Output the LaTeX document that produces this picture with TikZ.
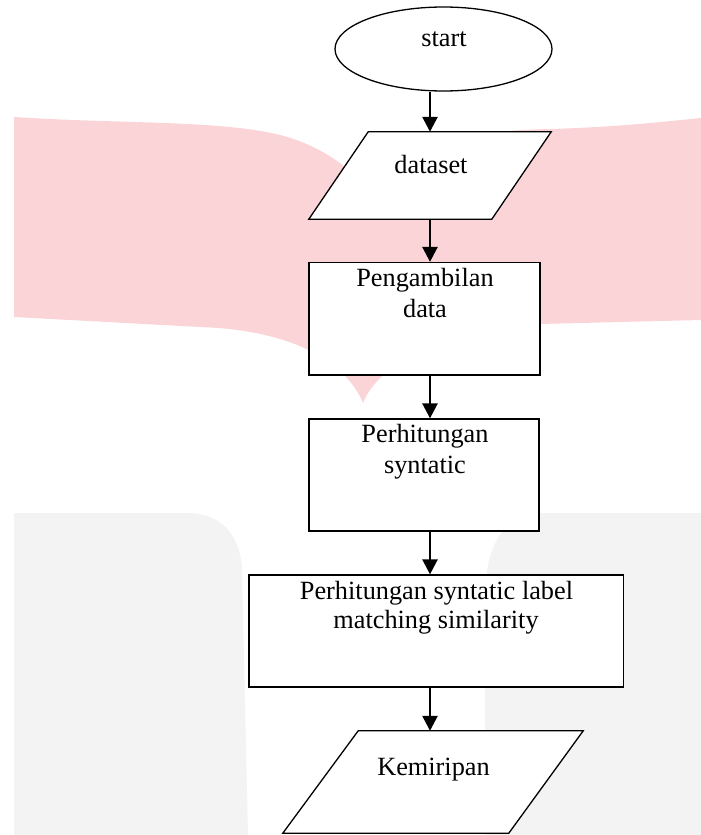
\documentclass[tikz,border=0pt]{standalone}
\usepackage{fontspec}
\setmainfont{Liberation Serif}
\usetikzlibrary{arrows.meta,shapes.geometric,calc}
\definecolor{wmpink}{RGB}{251,212,216}
\definecolor{wmgrey}{RGB}{243,243,243}
\begin{document}
\begin{tikzpicture}[x=1pt,y=-1pt,
  box/.style={draw=black, fill=white, line width=1.3pt, rectangle, inner sep=0pt},
  iobox/.style={draw=none, rectangle, inner sep=0pt},
  term/.style={draw=black, fill=white, line width=1.3pt, ellipse, inner sep=0pt},
  lbl/.style={font=\fontsize{26.3}{31}\selectfont, inner sep=0pt, anchor=base},
  flow/.style={line width=2.6pt, -{Triangle[length=15pt,width=15pt]}},
  io/.style={draw=black, fill=white, line width=1.3pt, line join=miter},
  wmp/.style={fill=wmpink},
  wmg/.style={fill=wmgrey}
]
\useasboundingbox (0,0) rectangle (701,835);
% watermark
\fill[wmp] (14,117) .. controls (120,124) and (220,120) .. (280,135)
  .. controls (320,145) and (350,168) .. (363,185)
  .. controls (390,150) and (450,131) .. (550,129)
  .. controls (620,127) and (670,121) .. (701,118) -- (701,320)
  -- (540,324) .. controls (450,330) and (380,360) .. (363,403)
  .. controls (345,360) and (290,330) .. (200,327) -- (14,317) -- cycle;
\fill[wmg] (14,835) -- (14,513) -- (187,513) .. controls (225,513) and (242,540) .. (242,573) -- (248,835) -- cycle;
\fill[wmg] (485,835) -- (485,600) .. controls (485,550) and (500,513) .. (545,513) -- (701,513) -- (701,835) -- cycle;

% shapes
\node[term, minimum width=217pt, minimum height=84pt] (st) at (443.5,49) {};
\node[iobox, minimum width=242pt, minimum height=87pt] (ds) at (430,175.5) {};
\draw[io] (ds.south west) -- ++(183,0) -- (ds.north east) -- ++(-183,0) -- cycle;
\node[box, minimum width=231pt, minimum height=112.5pt] (b1) at (424.5,318.75) {};
\node[box, minimum width=230pt, minimum height=112pt] (b2) at (424,475) {};
\node[box, minimum width=374.5pt, minimum height=112pt] (b3) at (436.25,631) {};
\node[iobox, minimum width=300pt, minimum height=102pt] (km) at (433,782) {};
\draw[io] (km.south west) -- ++(226,0) -- (km.north east) -- ++(-225,0) -- cycle;

% connectors
\draw[flow] (st.south -| ds.north) -- (ds.north);
\draw[flow] (ds.south) -- (ds.south |- b1.north);
\draw[flow] (b1.south -| ds.south) -- (b2.north -| ds.south);
\draw[flow] (b2.south -| ds.south) -- (b3.north -| ds.south);
\draw[flow] (b3.south -| ds.south) -- (km.north -| ds.south);

% texts
\node[lbl] (tst) at (444,46) {start};
\node[lbl] (tds) at (431,173) {dataset};
\node[lbl] (tb1a) at (425,286) {Pengambilan};
\node[lbl] (tb1b) at (425,317) {data};
\node[lbl] (tb2a) at (425,442) {Perhitungan};
\node[lbl] (tb2b) at (425,473) {syntatic};
\node[lbl] (tb3a) at (436.5,599) {Perhitungan syntatic label};
\node[lbl] (tb3b) at (436,628) {matching similarity};
\node[lbl] (tkm) at (433.5,775) {Kemiripan};
\end{tikzpicture}
\end{document}
